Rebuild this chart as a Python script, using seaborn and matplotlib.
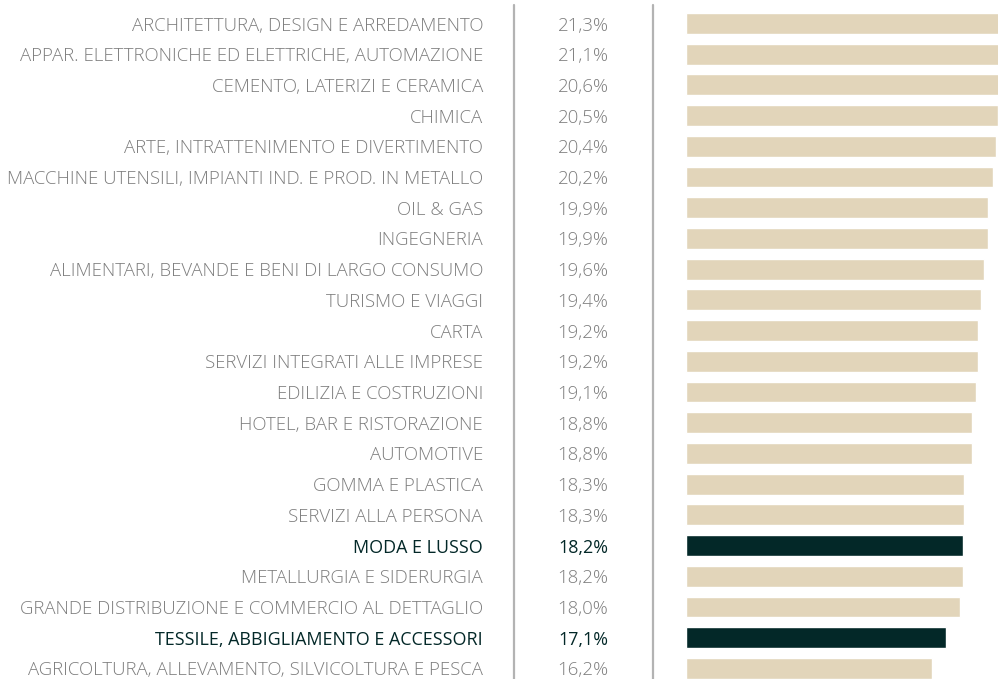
import matplotlib
matplotlib.use("Agg")
import matplotlib.pyplot as plt
import matplotlib.lines as mlines
import seaborn as sns
import pandas as pd

categories = [
    "ARCHITETTURA, DESIGN E ARREDAMENTO",
    "APPAR. ELETTRONICHE ED ELETTRICHE, AUTOMAZIONE",
    "CEMENTO, LATERIZI E CERAMICA",
    "CHIMICA",
    "ARTE, INTRATTENIMENTO E DIVERTIMENTO",
    "MACCHINE UTENSILI, IMPIANTI IND. E PROD. IN METALLO",
    "OIL & GAS",
    "INGEGNERIA",
    "ALIMENTARI, BEVANDE E BENI DI LARGO CONSUMO",
    "TURISMO E VIAGGI",
    "CARTA",
    "SERVIZI INTEGRATI ALLE IMPRESE",
    "EDILIZIA E COSTRUZIONI",
    "HOTEL, BAR E RISTORAZIONE",
    "AUTOMOTIVE",
    "GOMMA E PLASTICA",
    "SERVIZI ALLA PERSONA",
    "MODA E LUSSO",
    "METALLURGIA E SIDERURGIA",
    "GRANDE DISTRIBUZIONE E COMMERCIO AL DETTAGLIO",
    "TESSILE, ABBIGLIAMENTO E ACCESSORI",
    "AGRICOLTURA, ALLEVAMENTO, SILVICOLTURA E PESCA",
]
values = [21.3, 21.1, 20.6, 20.5, 20.4, 20.2, 19.9, 19.9, 19.6, 19.4, 19.2,
          19.2, 19.1, 18.8, 18.8, 18.3, 18.3, 18.2, 18.2, 18.0, 17.1, 16.2]
highlighted = ["MODA E LUSSO", "TESSILE, ABBIGLIAMENTO E ACCESSORI"]

BEIGE = "#e2d5ba"
DARK = "#032828"
GRAY_TXT = "#7d7d7d"
LINE = "#b3b3b3"

df = pd.DataFrame({"cat": categories, "val": values})
df["hl"] = df["cat"].isin(highlighted).map({True: "yes", False: "no"})

W, H = 998, 679
fig = plt.figure(figsize=(W / 100, H / 100), dpi=100)
sns.set_style("white")
plt.rcParams["font.family"] = ["Open Sans", "DejaVu Sans"]

ax = fig.add_axes([686 / W, 0, 1 - 686 / W, 1])
sns.barplot(data=df, y="cat", x="val", hue="hl", order=categories,
            palette={"yes": DARK, "no": BEIGE}, orient="h", width=0.68,
            dodge=False, legend=False, ax=ax, saturation=1)
ax.set_xlim(0, 312 / 15.2)
top_px, step = 23.5, 30.71
ax.set_ylim((H - top_px) / step, -top_px / step)
ax.axis("off")

trans_lbl = matplotlib.transforms.blended_transform_factory(fig.transFigure, ax.transData)
for i, (c, v) in enumerate(zip(categories, values)):
    hl = c in highlighted
    col = DARK if hl else GRAY_TXT
    wt = "normal" if hl else "light"
    fs = 12.9 if hl else 13.4
    ax.text(483 / W, i, c, transform=trans_lbl, ha="right", va="center_baseline",
            fontsize=fs, color=col, fontweight=wt)
    ax.text(583 / W, i, f"{v:.1f}".replace(".", ",") + "%", transform=trans_lbl,
            ha="center", va="center_baseline", fontsize=fs, color=col, fontweight=wt)

for xp in (514, 653):
    fig.add_artist(mlines.Line2D([xp / W, xp / W], [0, 1 - 5 / H],
                                 transform=fig.transFigure, color=LINE, lw=1.6))

fig.savefig("out.png", dpi=100)
